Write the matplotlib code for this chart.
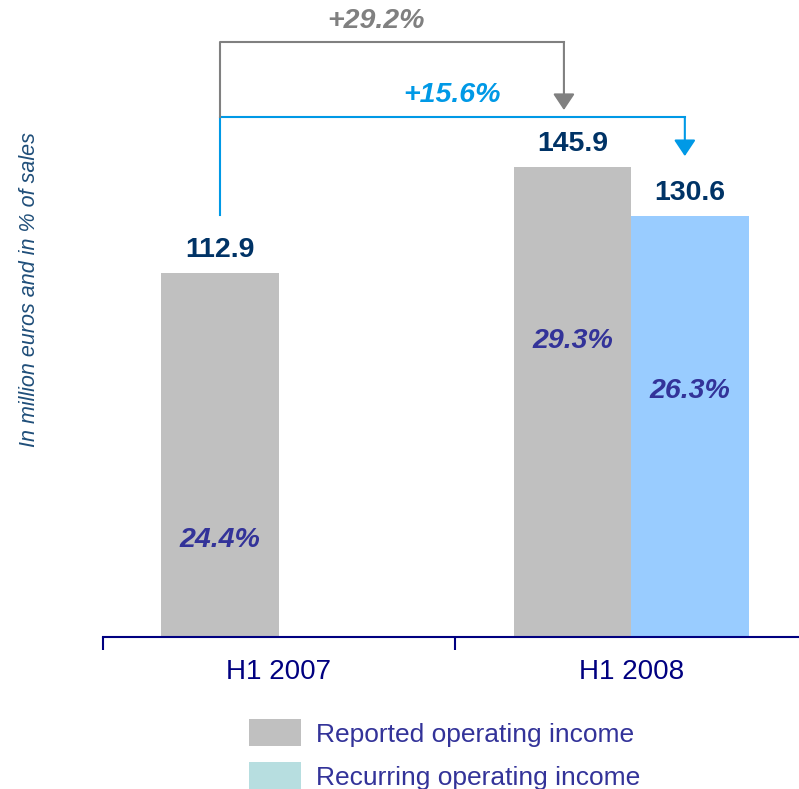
import matplotlib.pyplot as plt
from matplotlib.patches import Patch

plt.rcParams['font.family'] = ['Liberation Sans', 'DejaVu Sans']

# data
periods = ['H1 2007', 'H1 2008']
reported = [112.9, 145.9]
recurring = [None, 130.6]
reported_margin = ['24.4%', '29.3%']
recurring_margin = [None, '26.3%']
growth_reported = '+29.2%'
growth_recurring = '+15.6%'

GREY = '#C0C0C0'
LIGHT_BLUE = '#99CCFF'
NAVY = '#000080'
DARK_BLUE = '#003366'
INDIGO = '#333399'
ARROW_GREY = '#808080'
ARROW_BLUE = '#0099E6'

UNIT = 352.5   # px per category
PX_Y = 3.223   # px per million euros

fig = plt.figure(figsize=(7.99, 7.89), dpi=100)
ax = fig.add_axes([102.5 / 799, 152 / 789, 696.5 / 799, 637 / 789])

w = 1 / 3
centers = [i + 0.5 for i in range(len(periods))]


def value_label(x, v):
    ax.annotate(f'{v:.1f}', (x, v), xytext=(0, 11.5), textcoords='offset points',
                ha='center', va='baseline', fontsize=20.5, fontweight='bold',
                color=DARK_BLUE)


# bars + value labels
for i, c in enumerate(centers):
    ax.bar(c - w / 2, reported[i], width=w, color=GREY)
    value_label(c - w / 2, reported[i])
    if recurring[i] is not None:
        ax.bar(c + w / 2, recurring[i], width=w, color=LIGHT_BLUE)
        value_label(c + w / 2, recurring[i])

# margin labels inside the bars
margin_y = [30.1, 91.8]
rec_margin_y = [None, 76.3]
for i, c in enumerate(centers):
    ax.text(c - w / 2, margin_y[i], reported_margin[i], ha='center', va='center',
            fontsize=20.5, fontweight='bold', style='italic', color=INDIGO)
    if recurring_margin[i] is not None:
        ax.text(c + w / 2, rec_margin_y[i], recurring_margin[i], ha='center',
                va='center', fontsize=20.5, fontweight='bold', style='italic',
                color=INDIGO)

# growth brackets
x0 = centers[0] - w / 2
x_grey, x_blue = 1.309, 1.652
blue_y = 161.3
grey_y = 184.6
head = '-|>,head_length=0.45,head_width=0.3'
ax.plot([x0, x0, x_blue], [130.9, blue_y, blue_y], color=ARROW_BLUE, lw=1.5)
ax.plot([x0, x0, x_grey], [blue_y, grey_y, grey_y], color=ARROW_GREY, lw=1.5)
ax.annotate('', xy=(x_grey, 163.5), xytext=(x_grey, grey_y),
            arrowprops=dict(arrowstyle=head, color=ARROW_GREY, lw=1.5,
                            mutation_scale=22, shrinkA=0, shrinkB=0))
ax.annotate('', xy=(x_blue, 149.2), xytext=(x_blue, blue_y),
            arrowprops=dict(arrowstyle=head, color=ARROW_BLUE, lw=1.5,
                            mutation_scale=22, shrinkA=0, shrinkB=0))
ax.text(0.776, 191.1, growth_reported, ha='center', va='center', fontsize=20.5,
        fontweight='bold', style='italic', color=ARROW_GREY)
ax.text(0.991, 168.2, growth_recurring, ha='center', va='center', fontsize=20.5,
        fontweight='bold', style='italic', color=ARROW_BLUE)

# axes styling
for s in ['top', 'right', 'left']:
    ax.spines[s].set_visible(False)
ax.spines['bottom'].set_color(NAVY)
ax.spines['bottom'].set_linewidth(1.5)
ax.set_yticks([])
ax.set_xticks([0, 1, 2])
ax.set_xticklabels([])
ax.tick_params(axis='x', which='major', direction='out', length=9.5, width=1.5,
               color=NAVY)
ax.set_xticks(centers, minor=True)
ax.set_xticklabels(periods, minor=True)
ax.tick_params(axis='x', which='minor', length=0, pad=16, labelsize=20,
               labelcolor=NAVY)
# limits last, so the tick at 2 does not widen the view
ax.set_xlim(0, 696.5 / UNIT)
ax.set_ylim(0, 637 / PX_Y)

fig.text(30 / 799, 1 - 290 / 789, 'In million euros and in % of sales', rotation=90,
         ha='center', va='center', fontsize=15.5, style='italic', color='#1F4E79')

handles = [Patch(facecolor=GREY, edgecolor='none', label='Reported operating income'),
           Patch(facecolor='#B7DEE0', edgecolor='none', label='Recurring operating income')]
fig.legend(handles=handles, loc='upper left', bbox_to_anchor=(249 / 799, 1 - 719 / 789),
           frameon=False, fontsize=19, labelcolor=INDIGO, handlelength=1.97,
           handleheight=1.21, handletextpad=0.57, labelspacing=0.6, borderpad=0,
           borderaxespad=0)

fig.savefig('out.png', dpi=100)
